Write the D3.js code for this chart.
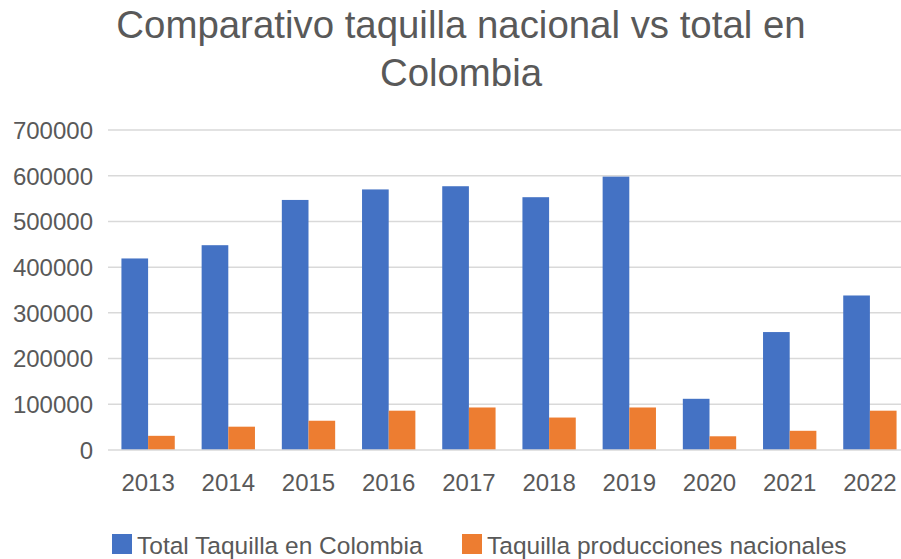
<!DOCTYPE html>
<html>
    <head>
        <title>Comparativo taquilla</title>
        <script src="https://d3js.org/d3.v7.min.js"></script>
        <style>
            html, body {
                margin: 0;
                padding: 0;
                background: white;
            }
            svg {
                display: block;
                font-family: "Liberation Sans", Arial, sans-serif;
            }
            .title {
                font-size: 38.4px;
                fill: #595959;
                text-anchor: middle;
            }
            .tick text {
                font-size: 24px;
                fill: #595959;
            }
            .grid line {
                stroke: #d9d9d9;
                stroke-width: 1.5px;
            }
            .legend-label {
                font-size: 24.5px;
                fill: #595959;
            }
        </style>
    </head>
    <body>
        <svg></svg>
    </body>
    <script>
        // data
        let years = ['2013', '2014', '2015', '2016', '2017', '2018', '2019', '2020', '2021', '2022'];
        let totalTaquilla = [419000, 448000, 547000, 570000, 577000, 553000, 598000, 112000, 258000, 338000];
        let taquillaNacional = [31000, 51000, 64000, 86000, 93000, 71000, 93000, 30000, 42000, 86000];
        let seriesNames = ['Total Taquilla en Colombia', 'Taquilla producciones nacionales'];
        let colours = ['#4472c4', '#ed7d31'];
        let yTicks = [0, 100000, 200000, 300000, 400000, 500000, 600000, 700000];

        let width = 901, height = 559;
        let svg = d3.select('svg')
                    .attr('width', width)
                    .attr('height', height);

        let margin = {left: 108, right: -9, top: 130, bottom: 109};
        let plotW = width - margin.left - margin.right;
        let plotH = height - margin.top - margin.bottom;

        let rows = years.map((y, i) => ({year: y, values: [totalTaquilla[i], taquillaNacional[i]]}));

        let x = d3.scaleBand()
                  .domain(years)
                  .range([margin.left, margin.left + plotW])
                  .paddingInner(0.335)
                  .paddingOuter(0.1675);

        let xSub = d3.scaleBand()
                     .domain([0, 1])
                     .range([0, x.bandwidth()]);

        let y = d3.scaleLinear()
                  .domain([0, 700000])
                  .range([margin.top + plotH, margin.top]);

        // title
        svg.append('text')
           .classed('title', true)
           .attr('x', 461)
           .attr('y', 38)
           .text('Comparativo taquilla nacional vs total en');
        svg.append('text')
           .classed('title', true)
           .attr('x', 461)
           .attr('y', 86)
           .text('Colombia');

        // gridlines
        svg.append('g')
           .classed('grid', true)
           .selectAll('line')
           .data(yTicks.slice(1))
           .join('line')
           .attr('x1', margin.left)
           .attr('x2', margin.left + plotW)
           .attr('y1', d => y(d))
           .attr('y2', d => y(d));

        // y axis
        let yAxis = svg.append('g')
                       .attr('transform', `translate(${margin.left - 15},0)`)
                       .call(d3.axisLeft(y).tickValues(yTicks).tickFormat(d3.format('d')).tickSize(0).tickPadding(0));
        yAxis.select('.domain').remove();
        yAxis.selectAll('.tick text').attr('dy', '0.35em');

        // bars
        let groups = svg.append('g')
                        .selectAll('g')
                        .data(rows)
                        .join('g')
                        .attr('transform', d => `translate(${x(d.year)},0)`);

        groups.selectAll('rect')
              .data(d => d.values)
              .join('rect')
              .attr('x', (d, i) => xSub(i))
              .attr('width', xSub.bandwidth())
              .attr('y', d => y(d))
              .attr('height', d => y(0) - y(d))
              .style('fill', (d, i) => colours[i]);

        // baseline
        svg.append('line')
           .attr('x1', margin.left)
           .attr('x2', margin.left + plotW)
           .attr('y1', y(0))
           .attr('y2', y(0))
           .style('stroke', '#d9d9d9')
           .style('stroke-width', '1.5px');

        // x axis
        let xAxis = svg.append('g')
                       .attr('transform', `translate(0,${y(0) + 24})`)
                       .call(d3.axisBottom(x).tickSize(0).tickPadding(0));
        xAxis.select('.domain').remove();
        xAxis.selectAll('.tick text').attr('dy', '0.71em');

        // legend
        let legendX = [112, 462];
        let legend = svg.append('g')
                        .selectAll('g')
                        .data(seriesNames)
                        .join('g')
                        .attr('transform', (d, i) => `translate(${legendX[i]},534)`);
        legend.append('rect')
              .attr('width', 20)
              .attr('height', 20)
              .style('fill', (d, i) => colours[i]);
        legend.append('text')
              .classed('legend-label', true)
              .attr('x', 25)
              .attr('y', 20)
              .text(d => d);
    </script>
</html>
